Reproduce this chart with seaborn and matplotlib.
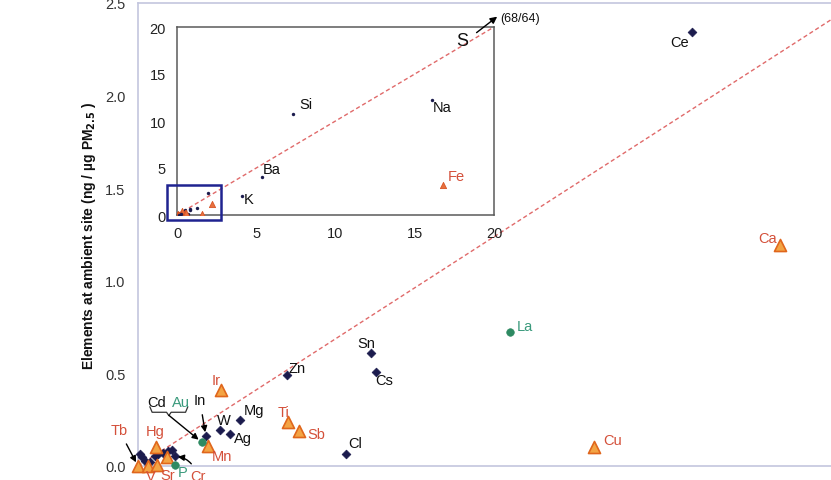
import numpy as np
import pandas as pd
import seaborn as sns
import matplotlib.pyplot as plt
from matplotlib.ticker import MultipleLocator
from matplotlib.patches import Rectangle

# elements in ng / ug PM2.5, x = near-road site, y = ambient site
dark_el = ['Ce', 'Sn', 'Cs', 'Cl', 'Zn', 'Mg', 'W', 'Ag', 'In']
dark_x = [1.926, 0.810, 0.826, 0.723, 0.517, 0.355, 0.286, 0.321, 0.236]
dark_y = [2.344, 0.609, 0.506, 0.065, 0.494, 0.250, 0.195, 0.175, 0.160]

# unlabelled cluster near the origin
clus_x = [0.007, 0.013, 0.024, 0.042, 0.059, 0.071, 0.088, 0.106, 0.117, 0.129]
clus_y = [0.065, 0.047, 0.029, 0.020, 0.056, 0.065, 0.069, 0.083, 0.086, 0.056]

tri_el = ['Ca', 'Cu', 'Ir', 'Ti', 'Sb', 'Mn', 'Hg', 'Tb', 'V', 'Sr', 'Cr']
tri_x = [2.233, 1.584, 0.289, 0.523, 0.561, 0.245, 0.062, 0.000, 0.036, 0.065, 0.100]
tri_y = [1.191, 0.101, 0.411, 0.236, 0.191, 0.110, 0.105, 0.000, 0.000, 0.008, 0.047]

grn_el = ['La', 'Au', 'P']
grn_x = [1.292, 0.222, 0.129]
grn_y = [0.723, 0.128, 0.003]

# only visible in the inset
big_el = ['Si', 'Na', 'Ba', 'K', 'S']
big_x = [7.34, 16.07, 5.34, 4.08, 68.0]
big_y = [10.74, 12.23, 4.00, 2.05, 64.0]
bigtri_el = ['Fe']
bigtri_x = [16.8]
bigtri_y = [3.2]

navy = '#1b1b4d'
orange = '#f3a444'
orange_edge = '#e0661c'
green = '#2e8a62'
red_txt = '#d4503a'
green_txt = '#3a9a7c'
axis_col = '#c3c6de'
line_col = '#e06a6a'

sns.set_style('white')
plt.rcParams['font.family'] = ['Liberation Sans', 'DejaVu Sans']

dark = pd.DataFrame({'x': dark_x + clus_x, 'y': dark_y + clus_y})
tri = pd.DataFrame({'el': tri_el, 'x': tri_x, 'y': tri_y})
grn = pd.DataFrame({'el': grn_el, 'x': grn_x, 'y': grn_y})

fig = plt.figure(figsize=(8.31, 4.81), dpi=100)
ax = fig.add_axes([138 / 831, 14 / 481, 719 / 831, 463 / 481])

ax.axline((0, 0), slope=1, color=line_col, lw=1, ls=(0, (3, 2)), zorder=1)
sns.scatterplot(data=dark, x='x', y='y', marker='D', s=20, color=navy,
                edgecolor=navy, linewidth=0.5, ax=ax, zorder=3, clip_on=False)
sns.scatterplot(data=tri, x='x', y='y', marker='^', s=75, color=orange,
                edgecolor=orange_edge, linewidth=1.2, ax=ax, zorder=4, clip_on=False)
sns.scatterplot(data=grn, x='x', y='y', marker='o', s=30, color=green,
                edgecolor=green, ax=ax, zorder=4, clip_on=False)

ax.set_xlim(0, 2.5)
ax.set_ylim(0, 2.5)
ax.set_xticks(np.arange(0, 2.51, 0.5))
ax.set_yticks(np.arange(0, 2.51, 0.5))
ax.xaxis.set_minor_locator(MultipleLocator(0.1))
ax.yaxis.set_minor_locator(MultipleLocator(0.1))
ax.xaxis.set_major_formatter('{x:.1f}')
ax.yaxis.set_major_formatter('{x:.1f}')
ax.tick_params(axis='y', which='major', direction='out', length=4, width=1,
               color=axis_col, labelsize=10.5, labelcolor='#333333', pad=5)
ax.tick_params(axis='y', which='minor', direction='out', length=2.5, width=1, color=axis_col)
ax.tick_params(axis='x', which='major', direction='inout', length=6, width=1,
               color=axis_col, labelsize=10.5, labelcolor='#333333', pad=7)
ax.tick_params(axis='x', which='minor', direction='inout', length=3, width=1, color=axis_col)
for sp in ax.spines.values():
    sp.set_color(axis_col)
    sp.set_linewidth(1.2)
ax.set_xlabel('')
ax.set_ylabel(r'Elements at ambient site (ng / µg PM$_{\mathbf{2.5}}$ )',
              fontsize=10, fontweight='bold', color='#111111')
ax.yaxis.set_label_coords(-0.056, 0.5)

# point labels, offsets in pixels
offs = {'Ce': (-12, -10), 'Sn': (-5, 10), 'Cs': (9, -8), 'Cl': (9, 11),
        'Zn': (10, 7), 'Mg': (14, 10), 'W': (4, 10), 'Ag': (13, -4),
        'Ca': (-13, 7), 'Cu': (19, 7), 'Ir': (-5, 10), 'Ti': (-5, 10),
        'Sb': (17, -3), 'Mn': (13, -10), 'Hg': (-1, 16), 'V': (2, -10),
        'Sr': (11, -10), 'La': (15, 6), 'P': (8, -7)}
for el, x, y in zip(dark_el, dark_x, dark_y):
    if el in offs:
        ax.annotate(el, (x, y), xytext=offs[el], textcoords='offset pixels',
                    ha='center', va='center', fontsize=10.5, color='#111111')
for el, x, y in zip(tri_el, tri_x, tri_y):
    if el in offs:
        ax.annotate(el, (x, y), xytext=offs[el], textcoords='offset pixels',
                    ha='center', va='center', fontsize=10.5, color=red_txt,
                    annotation_clip=False, zorder=6)
for el, x, y in zip(grn_el, grn_x, grn_y):
    if el in offs:
        ax.annotate(el, (x, y), xytext=offs[el], textcoords='offset pixels',
                    ha='center', va='center', fontsize=10.5, color=green_txt,
                    annotation_clip=False, zorder=6)

arrow = dict(arrowstyle='-|>', color='black', lw=1, mutation_scale=9)
tb = tri_el.index('Tb')
ax.annotate('Tb', (tri_x[tb], tri_y[tb]), xytext=(-19, 36), textcoords='offset pixels',
            ha='center', va='center', fontsize=10.5, color=red_txt,
            arrowprops=dict(arrow, shrinkA=3, shrinkB=3), annotation_clip=False)
i_in = dark_el.index('In')
ax.annotate('In', (dark_x[i_in], dark_y[i_in]), xytext=(-6, 36), textcoords='offset pixels',
            ha='center', va='center', fontsize=10.5, color='#111111',
            arrowprops=dict(arrow, shrinkA=3, shrinkB=3))
cr = tri_el.index('Cr')
ax.annotate('Cr', (tri_x[cr], tri_y[cr]), xytext=(31, -19), textcoords='offset pixels',
            ha='center', va='center', fontsize=10.5, color=red_txt,
            arrowprops=dict(arrow, shrinkA=2, shrinkB=8,
                            connectionstyle='arc3,rad=0.45'), annotation_clip=False)

# Cd / Au with a brace and one arrow
au = grn_el.index('Au')
ax.annotate('Cd', (grn_x[au], grn_y[au]), xytext=(-45, 40), textcoords='offset pixels',
            ha='center', va='center', fontsize=10.5, color='#111111')
ax.annotate('Au', (grn_x[au], grn_y[au]), xytext=(-21, 40), textcoords='offset pixels',
            ha='center', va='center', fontsize=10.5, color=green_txt)
ax.annotate('', (grn_x[au], grn_y[au]), xytext=(-33, 27), textcoords='offset pixels',
            arrowprops=dict(arrow, shrinkA=0, shrinkB=3))
bx0 = grn_x[au] - 52 / 287.5
bx1 = grn_x[au] - 14 / 287.5
bxm = grn_x[au] - 33 / 287.5
by = grn_y[au] + 30 / 185
ax.plot([bx0, bx0 + 0.008, bxm - 0.008, bxm, bxm + 0.008, bx1 - 0.008, bx1],
        [by + 0.03, by, by, by - 0.018, by, by, by + 0.03],
        color='#333333', lw=0.9)

# inset with the full range
ins = fig.add_axes([177 / 831, 265 / 481, 317 / 831, 188 / 481])
ins.set_facecolor('white')
ins.plot([0, 20], [0, 20], color=line_col, lw=1, ls=(0, (3, 2)), zorder=1)
big = pd.DataFrame({'x': big_x + dark_x + clus_x, 'y': big_y + dark_y + clus_y})
sns.scatterplot(data=big, x='x', y='y', marker='o', s=6, color=navy,
                edgecolor=navy, linewidth=0, ax=ins, zorder=3)
bigtri = pd.DataFrame({'x': bigtri_x + tri_x, 'y': bigtri_y + tri_y})
sns.scatterplot(data=bigtri, x='x', y='y', marker='^', s=20, color='#e8703e',
                edgecolor='#d85424', linewidth=0.6, ax=ins, zorder=3)
sns.scatterplot(data=grn, x='x', y='y', marker='o', s=6, color=navy,
                edgecolor=navy, linewidth=0, ax=ins, zorder=3)
ins.set_xlim(0, 20)
ins.set_ylim(0, 20)
ins.set_xticks([0, 5, 10, 15, 20])
ins.set_yticks([0, 5, 10, 15, 20])
ins.tick_params(direction='out', length=3, width=0.8, color='#666666',
                labelsize=10.5, labelcolor='#222222', pad=5)
for sp in ins.spines.values():
    sp.set_color('#5a5a5a')
    sp.set_linewidth(1.1)
ins.set_xlabel('')
ins.set_ylabel('')

in_offs = {'Si': (13, 10), 'Na': (10, -7), 'Ba': (10, 8), 'K': (7, -3)}
for el, x, y in zip(big_el, big_x, big_y):
    if el in in_offs:
        ins.annotate(el, (x, y), xytext=in_offs[el], textcoords='offset pixels',
                     ha='center', va='center', fontsize=10.5, color='#111111')
ins.annotate('Fe', (bigtri_x[0], bigtri_y[0]), xytext=(13, 9), textcoords='offset pixels',
             ha='center', va='center', fontsize=10.5, color=red_txt)

# S is off scale
ins.annotate('', xy=(20.2, 21.1), xytext=(18.9, 19.4), annotation_clip=False,
             arrowprops=dict(arrowstyle='-|>', color='black', lw=1, mutation_scale=10,
                             shrinkA=0, shrinkB=0))
ins.text(18.0, 18.6, big_el[4], fontsize=13, ha='center', va='center', color='#111111')
ins.text(20.4, 21.0, f'({big_x[4]:.0f}/{big_y[4]:.0f})', fontsize=9, ha='left',
         va='center', color='#111111', clip_on=False)

ins.add_patch(Rectangle((-0.6, -0.5), 3.4, 3.7, fill=False, edgecolor='#1f2390',
                        lw=1.8, clip_on=False, zorder=5))

fig.savefig('out.png', dpi=100)
